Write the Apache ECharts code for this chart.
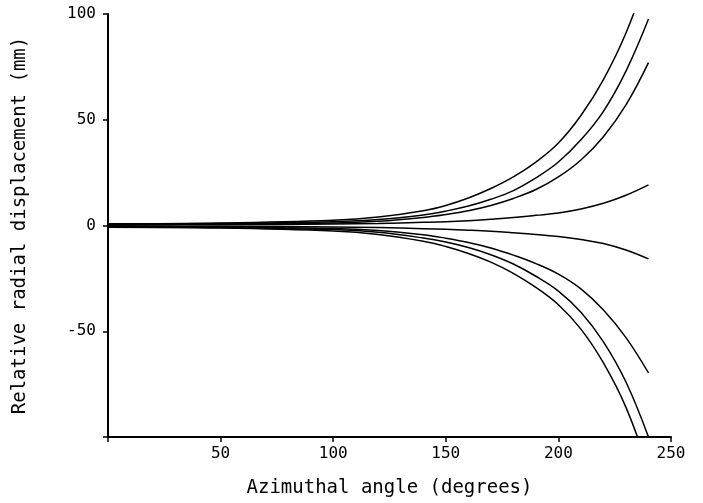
<!DOCTYPE html>
<html>
<head>
<meta charset="utf-8">
<script src="https://cdn.jsdelivr.net/npm/echarts@6/dist/echarts.min.js"></script>
<style>html,body{margin:0;padding:0;background:#fff}#c{width:703px;height:503px}</style>
</head>
<body>
<div id="c"></div>
<script>
// Azimuthal angle (degrees) sample positions
var angles = [0, 50, 100, 120, 140, 150, 160, 170, 180, 190, 200, 210, 220, 230, 240];
// Relative radial displacement (mm)
var curveA = [0.8, 1.2, 2.5, 4, 7, 9.5, 13, 17.5, 23, 30, 39, 52, 69, 91, 120];
var curveB = [0.6, 1.0, 1.8, 2.8, 5, 6.8, 9.2, 12.4, 16.5, 22.5, 30, 40.5, 54, 73, 97.6];
var curveC = [0.4, 0.7, 1.2, 2, 3.8, 5.2, 7, 9.5, 12.8, 17, 23, 31, 42, 57, 77];
var curveD = [0.2, 0.4, 0.7, 1, 1.5, 1.8, 2.3, 3, 3.8, 4.8, 5.9, 7.8, 10.5, 14.3, 19.2];
var curveE = [-0.2, -0.4, -0.7, -1, -1.5, -1.8, -2.2, -2.7, -3.4, -4.2, -5.2, -6.6, -8.5, -11.6, -15.8];
var curveF = [-0.4, -0.7, -1.4, -2.4, -4.4, -6, -8, -10.6, -14, -18, -23, -30, -40, -53, -69.7];
var curveG = [-0.6, -1, -1.9, -3.2, -5.9, -7.8, -10.4, -13.8, -18.2, -24, -31, -41, -55, -74, -100];
var curveH = [-0.8, -1.2, -2.6, -4.2, -7.4, -9.9, -13.2, -17.3, -22.6, -29.3, -37.5, -49, -65, -86, -115];
var xTicks = [50, 100, 150, 200, 250];
var yTicks = [100, 50, 0, -50];

var curves = [curveA, curveB, curveC, curveD, curveE, curveF, curveG, curveH];
function pairs(ys) { return angles.map(function (a, i) { return [a, ys[i]]; }); }

var font = 'DejaVu Sans Mono';
var chart = echarts.init(document.getElementById('c'), null, { renderer: 'canvas' });
chart.setOption({
  animation: false,
  backgroundColor: '#ffffff',
  grid: { left: 108, right: 32, top: 14, bottom: 66, containLabel: false },
  xAxis: {
    type: 'value', min: 0, max: 250, interval: 50,
    name: 'Azimuthal angle (degrees)', nameLocation: 'middle', nameGap: 42,
    nameTextStyle: { fontFamily: font, fontSize: 19, color: '#000' },
    axisLine: { show: true, onZero: false, lineStyle: { color: '#000', width: 2 } },
    axisTick: { show: true, inside: false, length: 5, lineStyle: { color: '#000', width: 1.5 } },
    axisLabel: {
      margin: 9, fontFamily: font, fontSize: 16, color: '#000',
      formatter: function (v) { return xTicks.indexOf(v) >= 0 ? String(v) : ''; }
    },
    splitLine: { show: false }
  },
  yAxis: {
    type: 'value', min: -100, max: 100, interval: 50,
    name: 'Relative radial displacement (mm)', nameLocation: 'middle', nameGap: 78,
    nameTextStyle: { fontFamily: font, fontSize: 19, color: '#000' },
    axisLine: { show: true, onZero: false, lineStyle: { color: '#000', width: 2 } },
    axisTick: { show: true, inside: false, length: 5, lineStyle: { color: '#000', width: 1.5 } },
    axisLabel: {
      margin: 12, fontFamily: font, fontSize: 16, color: '#000',
      formatter: function (v) { return yTicks.indexOf(v) >= 0 ? String(v) : ''; }
    },
    splitLine: { show: false }
  },
  series: curves.map(function (c) {
    return {
      type: 'line', data: pairs(c), smooth: 0.4, showSymbol: false, clip: true,
      lineStyle: { color: '#000', width: 1.5 }
    };
  })
});
</script>
</body>
</html>
